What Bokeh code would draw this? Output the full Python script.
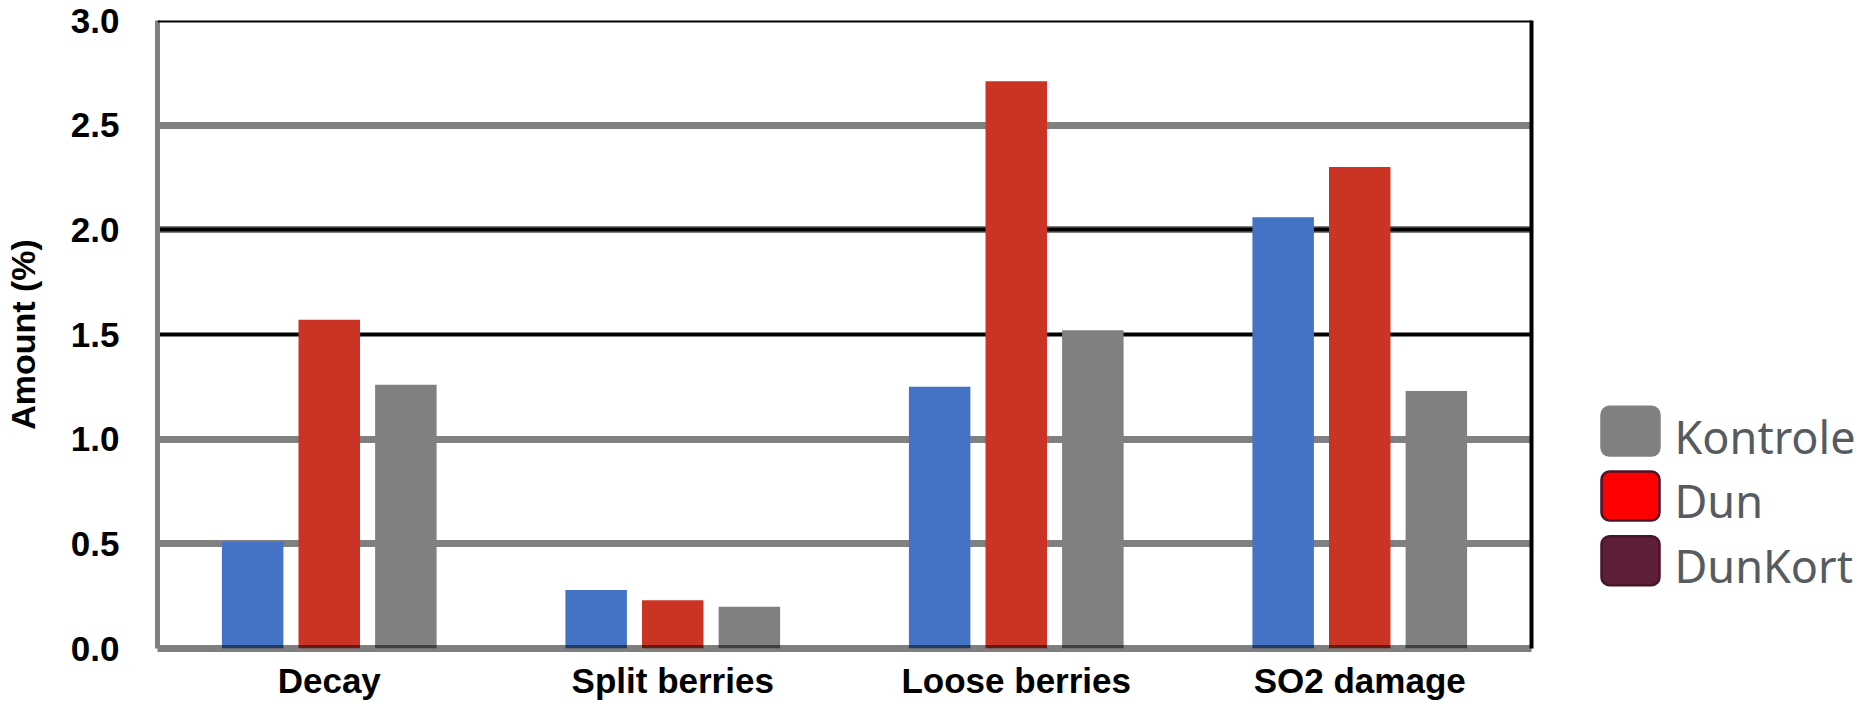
from bokeh.plotting import figure
from bokeh.models import (FactorRange, Range1d, FixedTicker, NumeralTickFormatter,
                          Grid, LinearAxis, Span, ColumnDataSource)
from bokeh.transform import dodge
from bokeh.layouts import row
from bokeh.embed import file_html
from bokeh.resources import INLINE
from bokeh.core.properties import value

# ---- data ----
categories = ["Decay", "Split berries", "Loose berries", "SO2 damage"]
series_blue = [0.51, 0.28, 1.25, 2.06]
series_red = [1.57, 0.23, 2.71, 2.30]
series_gray = [1.26, 0.20, 1.52, 1.23]
y_ticks = [0.0, 0.5, 1.0, 1.5, 2.0, 2.5, 3.0]
legend_labels = ["Kontrole", "Dun", "DunKort"]

# ---- styles ----
bar_colors = ["#4472C4", "#CB3324", "#808080"]
legend_fill = ["#808080", "#FF0000", "#5E1F38"]
legend_line = ["#808080", "#4A1528", "#4A1528"]
FONT = "Liberation Sans"

src = ColumnDataSource(dict(cat=categories, a=series_blue, b=series_red, c=series_gray))

p = figure(x_range=FactorRange(factors=categories, range_padding=0),
           y_range=Range1d(0, 3.0), width=1562, height=702,
           output_backend="svg", toolbar_location=None,
           min_border_left=150, min_border_top=20, min_border_right=31,
           min_border_bottom=40)
p.outline_line_color = None
p.xgrid.visible = False
p.ygrid.visible = False

# grid lines
p.add_layout(Grid(dimension=1, ticker=FixedTicker(ticks=[0.5, 1.0, 2.0, 2.5]),
                  grid_line_color="#808080", grid_line_width=7))
p.add_layout(Grid(dimension=1, ticker=FixedTicker(ticks=[1.5, 2.0]),
                  grid_line_color="black", grid_line_width=4))

offsets = [-0.223, 0.0, 0.223]
for key, off, col in zip(["a", "b", "c"], offsets, bar_colors):
    p.vbar(x=dodge("cat", off, range=p.x_range), top=key, width=0.179,
           source=src, fill_color=col, line_color=None)

p.add_layout(Span(location=3.0, dimension="width", line_color="black", line_width=4))

# y axis
p.yaxis.ticker = FixedTicker(ticks=y_ticks)
p.yaxis.formatter = NumeralTickFormatter(format="0.0")
p.yaxis.axis_line_color = "#808080"
p.yaxis.axis_line_width = 5
p.yaxis.major_tick_line_color = None
p.yaxis.minor_tick_line_color = None
p.yaxis.major_label_standoff = 32
p.yaxis.major_label_text_font = FONT
p.yaxis.major_label_text_font_style = "bold"
p.yaxis.major_label_text_font_size = "35px"
p.yaxis.major_label_text_color = "black"
p.yaxis.axis_label = "Amount (%)"
p.yaxis.axis_label_text_font = FONT
p.yaxis.axis_label_text_font_style = "bold"
p.yaxis.axis_label_text_font_size = "34px"
p.yaxis.axis_label_text_color = "black"
p.yaxis.axis_label_standoff = 26

# x axis
p.xaxis.axis_line_color = "black"
p.xaxis.axis_line_alpha = 0.5
p.xaxis.axis_line_width = 7
p.xaxis.major_tick_line_color = None
p.xaxis.minor_tick_line_color = None
p.xaxis.major_label_standoff = 6
p.xaxis.major_label_text_font = FONT
p.xaxis.major_label_text_font_style = "bold"
p.xaxis.major_label_text_font_size = "35px"
p.xaxis.major_label_text_color = "black"

# right border
rax = LinearAxis(ticker=FixedTicker(ticks=[]), axis_line_color="black", axis_line_width=4,
                 major_tick_line_color=None, minor_tick_line_color=None,
                 major_label_text_font_size="0px", major_label_standoff=0)
p.add_layout(rax, "right")

# ---- legend panel (its frame is aligned with the chart frame by the row) ----
FRAME_H = 630
lg = figure(width=296, height=702, x_range=Range1d(0, 296), y_range=Range1d(FRAME_H, 0),
            output_backend="svg", toolbar_location=None, min_border=0,
            x_axis_type=None, y_axis_type=None)
lg.outline_line_color = None
lg.grid.visible = False
row_y = [412 + i * 65 for i in range(len(legend_labels))]
lsrc = ColumnDataSource(dict(x=[68] * len(legend_labels), y=row_y,
                             ty=[y + 5 for y in row_y], tx=[112] * len(legend_labels),
                             fill=legend_fill, line=legend_line, label=legend_labels))
lg.rect(x="x", y="y", width=58, height=49, fill_color="fill", line_color="line",
        line_width=2.5, border_radius=8, source=lsrc)
lg.text(x="tx", y="ty", text="label", text_font=value("Noto Sans"),
        text_font_size="45px", text_color="#555B60", text_baseline="middle",
        text_align="left", source=lsrc)

layout = row(p, lg)
open("out.html", "w").write(file_html(layout, INLINE))
